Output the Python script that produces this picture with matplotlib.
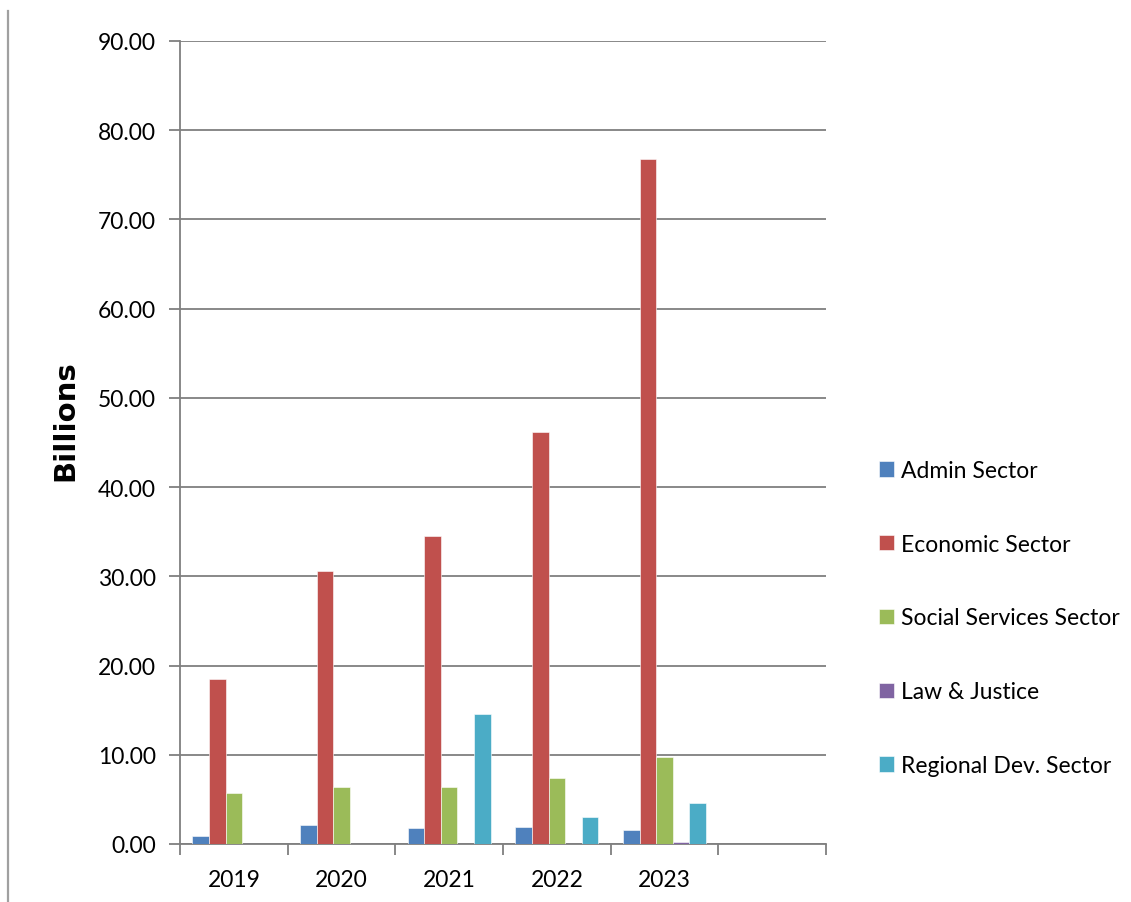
import numpy as np
import matplotlib
matplotlib.use("Agg")
import matplotlib.pyplot as plt
from matplotlib.lines import Line2D
from matplotlib.ticker import FormatStrFormatter, FixedLocator

years = ["2019", "2020", "2021", "2022", "2023"]
n_slots = 6  # one empty slot after the last year

admin = [0.90, 2.10, 1.80, 1.85, 1.55]
economic = [18.5, 30.6, 34.5, 46.2, 76.8]
social = [5.75, 6.35, 6.42, 7.36, 9.75]
law = [0.0, 0.05, 0.0, 0.0, 0.20]
regional = [0.05, 0.0, 14.6, 3.06, 4.56]

series = [
    ("Admin Sector", admin, "#4F81BD"),
    ("Economic Sector", economic, "#C0504D"),
    ("Social Services Sector", social, "#9BBB59"),
    ("Law & Justice", law, "#8064A2"),
    ("Regional Dev. Sector", regional, "#4BACC6"),
]

grey = "#7f7f7f"
txt_font = "Lato"

fig = plt.figure(figsize=(11.31, 9.03), dpi=100)
ax = fig.add_axes([180 / 1131, 1 - 845 / 903, (826 - 180) / 1131, (845 - 42) / 903])

x = np.arange(len(years))
w = 1 / 6.5
for i, (name, vals, col) in enumerate(series):
    ax.bar(x + (i - 2) * w, vals, width=w, color=col, label=name,
           edgecolor="white", linewidth=0.4, zorder=3)

ax.set_xlim(-0.5, n_slots - 0.5)
ax.set_ylim(0, 90)
ax.set_yticks(np.arange(0, 91, 10))
ax.yaxis.set_major_formatter(FormatStrFormatter("%.2f"))
ax.grid(axis="y", color=grey, linewidth=1.3, zorder=0)

# category boundaries as major ticks, year names centred on minor ticks
ax.xaxis.set_major_locator(FixedLocator(np.arange(n_slots + 1) - 0.5))
ax.xaxis.set_minor_locator(FixedLocator(x))
ax.set_xticklabels([""] * (n_slots + 1))
ax.set_xticklabels(years, minor=True, fontfamily=txt_font, fontsize=16.5)
ax.tick_params(axis="x", which="major", direction="out", length=8, width=1.3, color=grey)
ax.tick_params(axis="x", which="minor", length=0, pad=18)
ax.tick_params(axis="y", direction="out", length=8, width=1.3, color=grey, pad=9.5)
for lab in ax.get_yticklabels():
    lab.set_fontfamily(txt_font)
    lab.set_fontsize(16.5)

for side in ["top", "right"]:
    ax.spines[side].set_visible(False)
for side in ["left", "bottom"]:
    ax.spines[side].set_color(grey)
    ax.spines[side].set_linewidth(1.3)

fig.text(65 / 1131, 1 - 421 / 903, "Billions", rotation=90, ha="center", va="center",
         fontfamily="DejaVu Sans", fontweight="bold", fontsize=21)

leg = ax.legend(loc="center left", bbox_to_anchor=(879 / 1131, 1 - 619 / 903),
                bbox_transform=fig.transFigure, frameon=False, borderpad=0,
                borderaxespad=0, handlelength=0.65, handleheight=0.65,
                handletextpad=0.3, labelspacing=2.3,
                prop={"family": txt_font, "size": 16.5})

# thin frame line on the far left
fig.add_artist(Line2D([8 / 1131, 8 / 1131], [0, 1 - 12 / 903], color="#a0a0a0",
                      linewidth=1.6, transform=fig.transFigure))

fig.savefig("out.png", dpi=100, facecolor="white")
